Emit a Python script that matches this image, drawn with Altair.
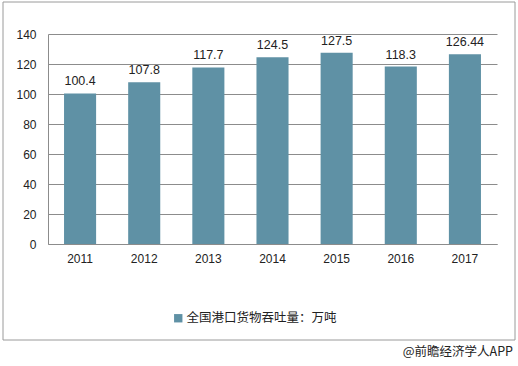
import altair as alt
import pandas as pd

years = ["2011", "2012", "2013", "2014", "2015", "2016", "2017"]
values = [100.4, 107.8, 117.7, 124.5, 127.5, 118.3, 126.44]
labels = ["100.4", "107.8", "117.7", "124.5", "127.5", "118.3", "126.44"]
y_ticks = [0, 20, 40, 60, 80, 100, 120, 140]
series_name = "全国港口货物吞吐量：万吨"
footer = "@前瞻经济学人APP"

df = pd.DataFrame({"year": years, "value": values, "label": labels, "series": [series_name] * len(years)})

W, H = 449, 210
CJK = "Noto Sans CJK SC"
NUM = "Liberation Sans"
BAR = "#5f91a5"

x_scale = alt.Scale(paddingInner=0.5, paddingOuter=0.25)
y_scale = alt.Scale(domain=[0, 140], nice=False)

x_axis = alt.Axis(labelAngle=0, ticks=False, domainColor="#8c8c8c",
                  labelFont=NUM, labelFontSize=12, labelColor="#222",
                  labelPadding=9)
y_axis = alt.Axis(values=y_ticks, tickCount=8, ticks=False,
                  labelOverlap=False,
                  domain=True, domainColor="#8c8c8c",
                  gridColor="#8c8c8c", gridWidth=1,
                  labelFont=NUM, labelFontSize=12, labelColor="#222",
                  labelPadding=12)

x_enc = alt.X("year:N", sort=years, title=None, scale=x_scale, axis=x_axis)
y_enc = alt.Y("value:Q", title=None, scale=y_scale, axis=y_axis)

base = alt.Chart(df)

bars = base.mark_bar(color=BAR).encode(
    x=x_enc, y=y_enc,
    color=alt.Color("series:N", scale=alt.Scale(range=[BAR]), title=None,
                    legend=alt.Legend(orient="none", legendX=124, legendY=278,
                                      symbolType="square", symbolSize=70,
                                      symbolStrokeWidth=0,
                                      labelFont=CJK, labelFontSize=12.5,
                                      labelColor="#222", labelOffset=2)),
)

text = base.mark_text(baseline="bottom", dy=-5, font=NUM, fontSize=12.5, color="#222").encode(
    x=x_enc, y=y_enc, text="label:N"
)

frame = alt.Chart(pd.DataFrame({"a": [0]})).mark_rect(
    fill=None, stroke="#9a9a9a", strokeWidth=1
).encode(x=alt.value(-45), x2=alt.value(467), y=alt.value(-32), y2=alt.value(306))

foot = alt.Chart(pd.DataFrame({"t": [footer]})).mark_text(
    align="right", baseline="middle", font=CJK, fontSize=12.5, color="#222"
).encode(x=alt.value(465), y=alt.value(318), text="t:N")

chart = alt.layer(frame, bars, text, foot).properties(
    width=W, height=H,
    autosize=alt.AutoSizeParams(type="none"),
    padding={"left": 48, "top": 34, "right": 21, "bottom": 122},
    background="white",
).configure_view(stroke=None)

chart.save("out.html", embed_options={"renderer": "svg", "actions": False})
